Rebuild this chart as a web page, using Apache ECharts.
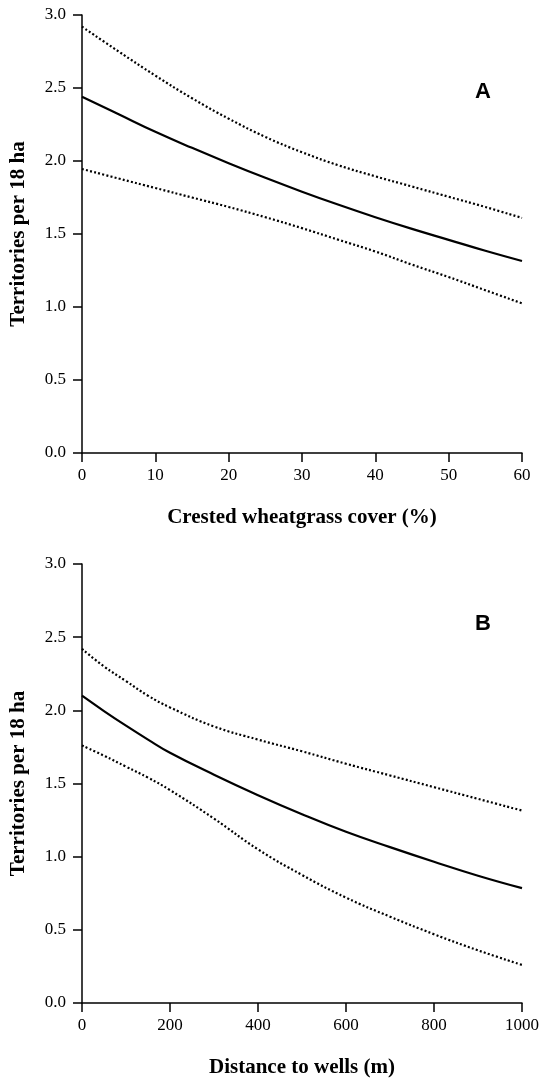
<!DOCTYPE html>
<html><head><meta charset="utf-8">
<script src="https://cdn.jsdelivr.net/npm/echarts@6/dist/echarts.min.js"></script>
<style>html,body{margin:0;padding:0;background:#fff}#c{width:542px;height:1080px}</style>
</head><body><div id="c"></div>
<script>
// Panel A: crested wheatgrass cover (%)
const coverX = [0,5,10,15,20,25,30,35,40,45,50,55,60];
const coverFit = [2.44,2.32,2.20,2.09,1.985,1.885,1.79,1.70,1.615,1.535,1.46,1.385,1.315];
const coverUpper = [2.92,2.75,2.585,2.43,2.29,2.165,2.06,1.97,1.895,1.825,1.755,1.685,1.61];
const coverLower = [1.945,1.88,1.815,1.75,1.685,1.615,1.54,1.46,1.38,1.29,1.205,1.115,1.025];
// Panel B: distance to wells (m)
const distX = [0,50,100,150,200,300,400,500,600,700,800,900,1000];
const distFit = [2.10,1.995,1.895,1.80,1.71,1.56,1.42,1.29,1.17,1.065,0.965,0.87,0.785];
const distUpper = [2.42,2.30,2.20,2.10,2.02,1.89,1.80,1.72,1.635,1.555,1.475,1.395,1.315];
const distLower = [1.76,1.69,1.615,1.54,1.455,1.26,1.05,0.875,0.72,0.59,0.47,0.36,0.26];
const yTicks = [0,0.5,1,1.5,2,2.5,3];
const yAxisTitle = 'Territories per 18 ha';
const xTitleA = 'Crested wheatgrass cover (%)';
const xTitleB = 'Distance to wells (m)';
const panelLabels = ['A','B'];

const serif = '"Liberation Serif","Times New Roman",serif';
function pairs(xs, ys){ return xs.map((x,i)=>[x, ys[i]]); }
const axisCommon = {
  axisLine:{lineStyle:{color:'#000',width:1.5}},
  axisTick:{show:true,length:9,lineStyle:{color:'#000',width:1.5}},
  splitLine:{show:false},
  axisLabel:{color:'#000',fontFamily:serif,fontSize:17,margin:16},
  nameTextStyle:{color:'#000',fontFamily:serif,fontSize:21,fontWeight:'bold'}
};
function xAx(idx,max,interval,name){
  return Object.assign({}, axisCommon, {type:'value',gridIndex:idx,min:0,max:max,interval:interval,
    name:name,nameLocation:'middle',nameGap:54,
    axisLabel:Object.assign({},axisCommon.axisLabel,{margin:14,formatter:v=>String(v)})});
}
function yAx(idx){
  return Object.assign({}, axisCommon, {type:'value',gridIndex:idx,min:yTicks[0],max:yTicks[yTicks.length-1],interval:0.5,
    name:yAxisTitle,nameLocation:'middle',nameGap:53,
    axisLabel:Object.assign({},axisCommon.axisLabel,{formatter:v=>v.toFixed(1)})});
}
function line(idx,data,dotted){
  return {type:'line',xAxisIndex:idx,yAxisIndex:idx,data:data,smooth:0.45,symbol:'none',silent:true,
    lineStyle:dotted?{color:'#000',width:2.2,type:[2,2.2]}:{color:'#000',width:2.2}};
}
const chart = echarts.init(document.getElementById('c'),null,{renderer:'canvas'});
chart.setOption({
  animation:false,
  backgroundColor:'#fff',
  grid:[
    {left:81,right:20,top:15,height:438},
    {left:81,right:20,top:564,height:439}
  ],
  xAxis:[xAx(0,60,10,xTitleA), xAx(1,1000,200,xTitleB)],
  yAxis:[yAx(0), yAx(1)],
  series:[
    line(0,pairs(coverX,coverFit),false),
    line(0,pairs(coverX,coverUpper),true),
    line(0,pairs(coverX,coverLower),true),
    line(1,pairs(distX,distFit),false),
    line(1,pairs(distX,distUpper),true),
    line(1,pairs(distX,distLower),true)
  ],
  graphic:[
    {type:'text',left:475,top:81,style:{text:panelLabels[0],font:'bold 22px "Liberation Sans",Arial,sans-serif',fill:'#000'}},
    {type:'text',left:475,top:613,style:{text:panelLabels[1],font:'bold 22px "Liberation Sans",Arial,sans-serif',fill:'#000'}}
  ]
});
</script></body></html>
